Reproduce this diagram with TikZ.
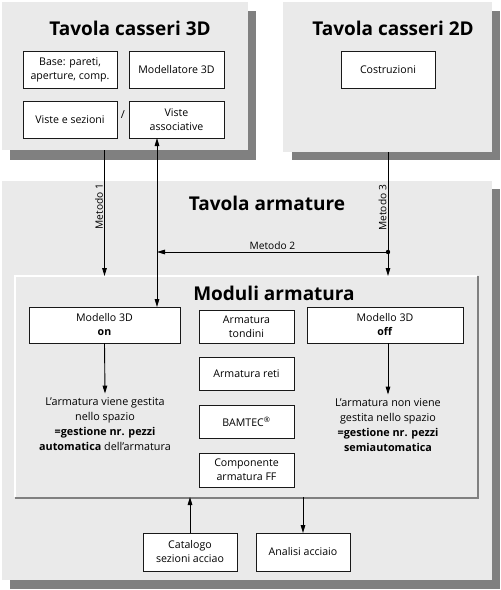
\documentclass[tikz,border=0pt]{standalone}
\usepackage{fontspec}
\setmainfont{Open Sans}
\usetikzlibrary{arrows.meta,calc}
\definecolor{panel}{HTML}{EAEAEA}
\definecolor{shad}{HTML}{808080}
\tikzset{
  panelbox/.style={fill=panel, draw=none, inner sep=0pt, outer sep=0pt, anchor=north west},
  shadowbox/.style={fill=shad, draw=none},
  titletext/.style={font=\fontsize{19}{22}\selectfont\bfseries, inner sep=0pt},
  box/.style={draw=black!90, fill=white, line width=0.9pt, align=center, inner sep=1pt, outer sep=0pt,
    font=\fontsize{10.6}{14}\selectfont, minimum width=94pt, minimum height=37pt},
  lbl/.style={font=\fontsize{10.2}{12}\selectfont, inner sep=1pt},
  desc/.style={font=\fontsize{10.8}{14.8}\selectfont, align=center, inner sep=0pt},
  arr/.style={-{Triangle[length=8pt,width=4.6pt]}, line width=0.9pt},
  darr/.style={{Triangle[length=8pt,width=4.6pt]}-{Triangle[length=8pt,width=4.6pt]}, line width=0.9pt},
}
\begin{document}
\begin{tikzpicture}[x=1pt,y=-1pt]
\useasboundingbox (0,0) rectangle (501,590);
% shadows
\fill[shadowbox] (10,11) rectangle (256,160);
\fill[shadowbox] (292,11) rectangle (500,160);
\fill[shadowbox] (10,189) rectangle (500,589);
% panels
\node[panelbox, minimum width=246pt, minimum height=148pt] (p3d) at (2,2) {};
\node[panelbox, minimum width=209pt, minimum height=150pt] (p2d) at (283,2) {};
\node[panelbox, minimum width=490pt, minimum height=399pt] (parm) at (2,181) {};
\node[panelbox, minimum width=462pt, minimum height=221pt] (mod) at (15,276) {};
\draw[white, line width=1.6pt] (mod.south west) -- (mod.north west) -- (mod.north east);
\draw[shad, line width=2pt] ([xshift=1pt]mod.north east) -- ([xshift=1pt,yshift=-1pt]mod.south east) -- ([yshift=-1pt]mod.south west);
% titles
\node[titletext] (t3d) at (130,28) {Tavola casseri 3D};
\node[titletext] (t2d) at (393,28) {Tavola casseri 2D};
\node[titletext] (tarm) at (267,203) {Tavola armature};
\node[titletext] (tmod) at (274,293) {Moduli armatura};
% top-left boxes
\node[box] (base) at (70,70) {Base: pareti,\\aperture, comp.};
\node[box, minimum width=95pt] (m3d) at (176.5,70) {Modellatore 3D};
\node[box] (vis) at (70,119.5) {Viste e sezioni};
\node[box, minimum width=95pt] (va) at (176.5,119.5) {Viste\\associative};
\node[font=\fontsize{11}{12}\selectfont, inner sep=0pt] (slash) at (123,115) {/};
% top-right box
\node[box] (cost) at (388,70) {Costruzioni};
% modules
\node[box, minimum width=151pt, minimum height=36pt] (on) at (104.5,325) {Modello 3D\\\textbf{on}};
\node[box, minimum width=156pt, minimum height=36pt] (off) at (385,325) {Modello 3D\\\textbf{off}};
\node[box, minimum width=95pt, minimum height=33pt] (ton) at (246.5,326.5) {Armatura\\tondini};
\node[box, minimum width=95pt, minimum height=33pt] (ret) at (246.5,373.5) {Armatura reti};
\node[box, minimum width=95pt, minimum height=33pt] (bam) at (246.5,421.5) {BAMTEC\textsuperscript{®}};
\node[box, minimum width=95pt, minimum height=34pt] (ff) at (246.5,470) {Componente\\armatura FF};
\node[desc] (ontxt) at (105,424) {L'armatura viene gestita\\nello spazio\\\textbf{=gestione nr. pezzi}\\\textbf{automatica} dell'armatura};
\node[desc] (offtxt) at (388,425) {L'armatura non viene\\gestita nello spazio\\\textbf{=gestione nr. pezzi}\\\textbf{semiautomatica}};
% bottom boxes
\node[box, minimum height=38pt] (cat) at (190,552) {Catalogo\\sezioni acciao};
\node[box, minimum height=38pt] (an) at (303,552) {Analisi acciaio};
% helper coordinates
\coordinate (xva) at (157,0);
\coordinate (xm1) at (104.5,0);
\coordinate (dot) at (cost.south |- 0,252);
% connectors
\draw[arr] (xm1 |- p3d.south) -- (xm1 |- mod.north) node[lbl, pos=0.45, rotate=90, anchor=south] (m1) {Metodo 1};
\draw[darr] (xva |- va.south) -- (xva |- on.north);
\draw[arr] (cost.south |- p2d.south) -- (cost.south |- mod.north) node[lbl, pos=0.45, rotate=90, anchor=south] (m3) {Metodo 3};
\draw[arr] (dot) -- (xva |- dot) node[lbl, midway, anchor=south, yshift=1pt] (m2) {Metodo 2};
\fill (dot) circle (2.2pt);
\draw[arr] (on.south) -- ([yshift=4pt]ontxt.north);
\draw[arr] (off.south -| offtxt.north) -- ([yshift=4pt]offtxt.north);
\draw[arr] (cat.north) -- (cat.north |- mod.south);
\draw[arr] (an.north |- mod.south) -- (an.north);
\end{tikzpicture}
\end{document}
